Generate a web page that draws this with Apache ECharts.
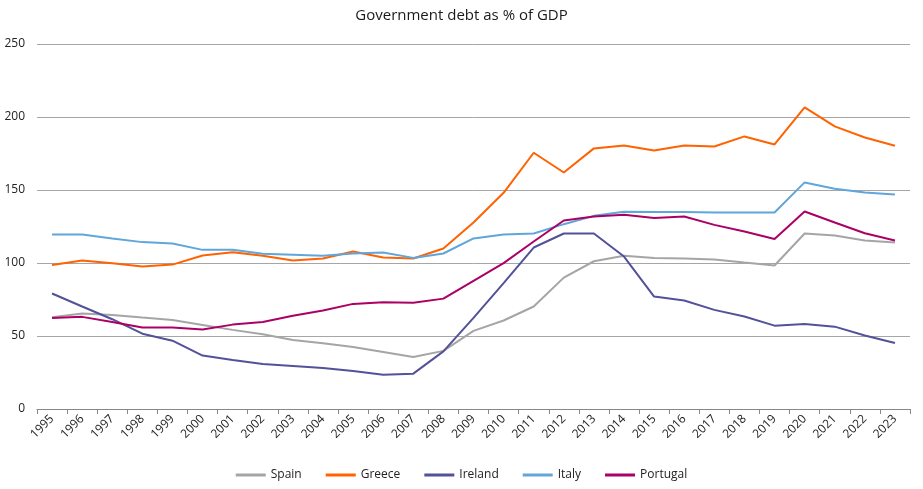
<!DOCTYPE html>
<html><head><meta charset="utf-8">
<script src="https://cdn.jsdelivr.net/npm/echarts@6/dist/echarts.min.js"></script>
<style>html,body{margin:0;padding:0;background:#fff}#c{width:923px;height:489px}</style>
</head><body><div id="c"></div>
<script>
const years = ['1995','1996','1997','1998','1999','2000','2001','2002','2003','2004','2005','2006','2007','2008','2009','2010','2011','2012','2013','2014','2015','2016','2017','2018','2019','2020','2021','2022','2023'];
const spain = [62.8,65.4,64.4,62.6,61.0,57.6,54.2,51.2,47.3,45.0,42.5,39.1,35.6,39.8,53.5,60.6,70.2,90.0,101.2,104.9,103.5,103.1,102.4,100.3,98.3,120.2,118.8,115.4,114.0];
const greece = [98.7,101.7,99.9,97.6,98.9,105.1,107.4,104.9,101.7,103.1,107.9,103.7,103.1,109.9,127.7,148.1,175.5,162.0,178.5,180.5,177.1,180.5,179.8,186.7,181.2,206.6,193.6,186.0,180.3];
const ireland = [79.1,70.2,61.5,51.6,46.8,36.6,33.6,30.9,29.5,28.1,26.1,23.5,24.2,39.5,62.4,86.2,110.6,120.2,120.2,104.4,77.0,74.3,67.9,63.3,57.1,58.3,56.4,50.3,45.2];
const italy = [119.5,119.5,116.8,114.3,113.3,109.0,109.0,106.3,105.6,104.9,106.5,107.2,103.5,106.5,116.8,119.5,120.2,126.6,132.3,135.1,135.0,135.0,134.6,134.6,134.6,155.2,150.8,148.3,146.9];
const portugal = [62.4,63.1,59.6,55.8,55.8,54.4,57.8,59.6,63.8,67.4,72.0,73.1,72.7,75.6,87.8,99.9,114.7,129.1,131.9,133.0,130.9,131.9,126.1,121.6,116.5,135.3,127.7,120.4,115.4];
const yTicks = [0,50,100,150,200,250];

const font = 'Open Sans';
const names = ['Spain','Greece','Ireland','Italy','Portugal'];
const colors = ['#A5A5A5','#FF6200','#525199','#60A6DA','#AB0066'];
const datas = [spain, greece, ireland, italy, portugal];

const chart = echarts.init(document.getElementById('c'));
chart.setOption({
  animation:false,
  title:{text:'Government debt as % of GDP',left:'center',top:3,textStyle:{fontFamily:font,fontSize:15,fontWeight:'normal',color:'#1a1a1a'}},
  legend:{bottom:3,left:'center',itemWidth:30,itemHeight:3,icon:'rect',itemGap:24,
    textStyle:{fontFamily:font,fontSize:12,color:'#222'},data:names},
  grid:{left:37,right:13,top:44,bottom:80,containLabel:false},
  xAxis:{type:'category',data:years,boundaryGap:true,
    axisLine:{lineStyle:{color:'#888',width:1}},
    axisTick:{show:true,alignWithLabel:false,length:5,lineStyle:{color:'#888'}},
    axisLabel:{rotate:45,fontFamily:font,fontSize:12,color:'#222',margin:8,interval:0}},
  yAxis:{type:'value',min:yTicks[0],max:yTicks[yTicks.length-1],interval:50,
    axisLine:{show:false},axisTick:{show:false},
    splitLine:{lineStyle:{color:'#A6A6A6',width:1}},
    axisLabel:{fontFamily:font,fontSize:12,color:'#222',margin:12,
      formatter:v=>yTicks.includes(v)?String(v):''}},
  series: names.map((n,i)=>({name:n,type:'line',data:datas[i],symbol:'none',
    lineStyle:{color:colors[i],width:2},itemStyle:{color:colors[i]}}))
});
</script></body></html>
